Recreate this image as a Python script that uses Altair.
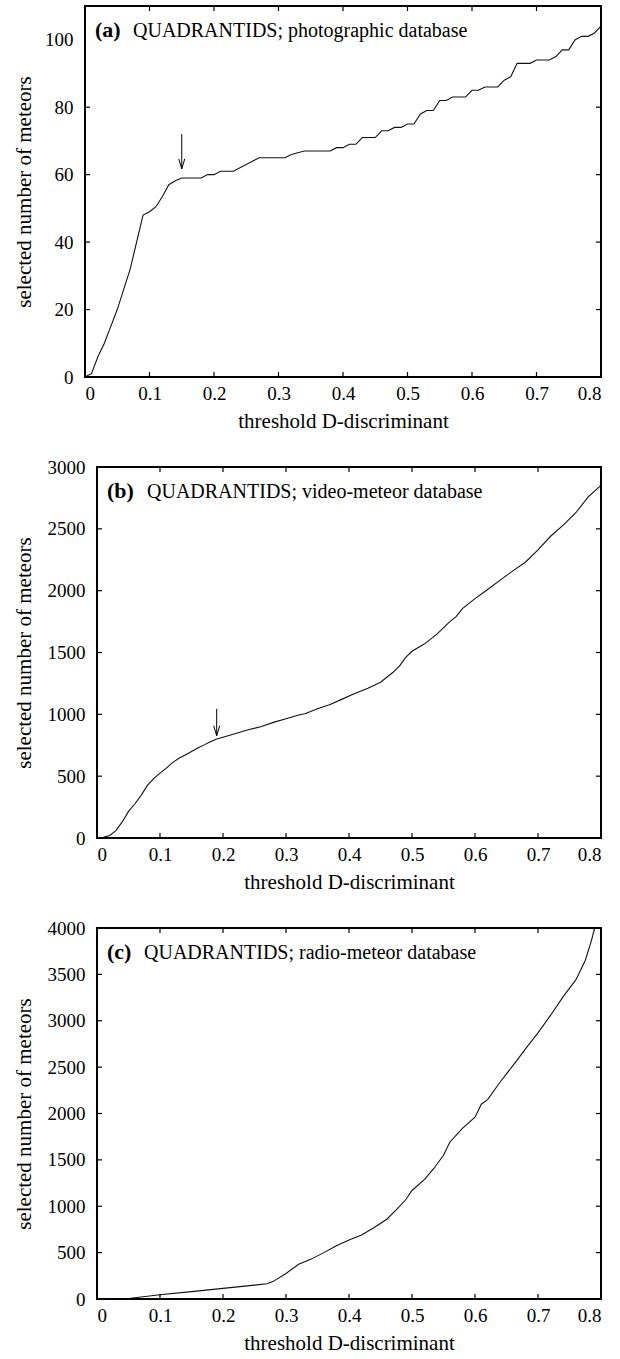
import altair as alt
import pandas as pd

FONT = "Liberation Serif"

# ---------------- data ----------------
X_TICKS = [0, 0.1, 0.2, 0.3, 0.4, 0.5, 0.6, 0.7, 0.8]

# (a) photographic database
xa = [0, 0.005, 0.01, 0.02, 0.03, 0.04, 0.05, 0.06, 0.07, 0.08, 0.09, 0.1, 0.11, 0.12,
      0.13, 0.14, 0.15, 0.18, 0.19, 0.2, 0.21, 0.23, 0.27, 0.31, 0.32, 0.34, 0.38, 0.39,
      0.4, 0.41, 0.42, 0.43, 0.45, 0.46, 0.47, 0.48, 0.49, 0.5, 0.51, 0.52, 0.53, 0.54,
      0.55, 0.56, 0.57, 0.59, 0.6, 0.61, 0.62, 0.64, 0.65, 0.66, 0.67, 0.69, 0.7, 0.72,
      0.73, 0.74, 0.75, 0.76, 0.77, 0.78, 0.79, 0.8]
ya = [0, 0.5, 1, 6, 10, 15, 20, 26, 32, 40, 48, 49, 50.5, 53.5,
      57, 58.2, 59, 59, 60, 60, 61, 61, 65, 65, 66, 67, 67, 68,
      68, 69, 69, 71, 71, 73, 73, 74, 74, 75, 75, 78, 79, 79,
      82, 82, 83, 83, 85, 85, 86, 86, 88, 89, 93, 93, 94, 94,
      95, 97, 97, 100, 101, 101, 102, 104]
YA_TICKS = [0, 20, 40, 60, 80, 100]
ARROW_A = {"d": 0.15, "top": 72, "tip": 61.7}

# (b) video-meteor database
xb = [0, 0.01, 0.02, 0.03, 0.04, 0.05, 0.06, 0.07, 0.08, 0.09, 0.1, 0.11, 0.12, 0.13,
      0.14, 0.15, 0.16, 0.17, 0.18, 0.19, 0.2, 0.22, 0.24, 0.26, 0.28, 0.3, 0.32, 0.33,
      0.35, 0.37, 0.39, 0.41, 0.43, 0.45, 0.46, 0.47, 0.48, 0.49, 0.5, 0.52, 0.54, 0.56,
      0.57, 0.58, 0.6, 0.62, 0.64, 0.66, 0.68, 0.7, 0.72, 0.74, 0.76, 0.78, 0.8]
yb = [0, 5, 20, 60, 130, 215, 275, 345, 425, 480, 525, 565, 610, 645,
      672, 700, 728, 753, 778, 800, 815, 845, 875, 900, 935, 965, 995, 1005,
      1045, 1080, 1125, 1170, 1210, 1260, 1300, 1340, 1390, 1460, 1510, 1570, 1650, 1750,
      1790, 1855, 1936, 2010, 2085, 2160, 2230, 2330, 2440, 2530, 2630, 2760, 2852]
YB_TICKS = [0, 500, 1000, 1500, 2000, 2500, 3000]
ARROW_B = {"d": 0.19, "top": 1044, "tip": 827}

# (c) radio-meteor database
xc = [0, 0.05, 0.1, 0.15, 0.2, 0.25, 0.27, 0.28, 0.3, 0.32, 0.34, 0.36, 0.38, 0.4,
      0.42, 0.44, 0.46, 0.475, 0.49, 0.5, 0.52, 0.535, 0.55, 0.56, 0.58, 0.6, 0.61,
      0.62, 0.64, 0.665, 0.685, 0.7, 0.72, 0.74, 0.76, 0.775, 0.785, 0.79]
yc = [0, 5, 45, 80, 115, 150, 165, 190, 275, 375, 430, 500, 575, 635,
      690, 770, 860, 960, 1070, 1170, 1290, 1410, 1550, 1690, 1840, 1960, 2100,
      2150, 2340, 2560, 2740, 2870, 3060, 3260, 3440, 3650, 3870, 4000]
YC_TICKS = [0, 500, 1000, 1500, 2000, 2500, 3000, 3500, 4000]

X_TITLE = "threshold D-discriminant"
Y_TITLE = "selected number of meteors"

AXIS_STYLE = dict(
    domain=False, ticks=False, tickSize=0, grid=False,
    labelFont=FONT, labelFontSize=19, labelColor="black",
    titleFont=FONT, titleFontSize=21, titleFontWeight="normal", titleColor="black",
)

W = 516   # full cell width (all panels share the right edge)
H = 371


def panel(xs, ys, ymax, yticks, x0, tag, caption, cap_dx, ytitle_pad, arrow=None):
    """x0 = left inset of the plot frame inside the common cell."""
    df = pd.DataFrame({"d": xs, "n": ys})
    xscale = alt.Scale(domain=[0, 0.8], range=[x0, W], nice=False, zero=False)
    yscale = alt.Scale(domain=[0, ymax], nice=False, zero=False)
    xaxis = alt.Axis(values=X_TICKS, format=".1~f", title=X_TITLE,
                     labelPadding=7, titlePadding=7, **AXIS_STYLE)
    yaxis = alt.Axis(values=yticks, format="d", title=Y_TITLE, offset=-x0,
                     labelPadding=12, titlePadding=ytitle_pad, **AXIS_STYLE)

    def X(field):
        return alt.X(field, scale=xscale, axis=xaxis)

    def Y(field):
        return alt.Y(field, scale=yscale, axis=yaxis)

    line = alt.Chart(df).mark_line(color="#111111", strokeWidth=1.1).encode(
        x=X("d:Q"), y=Y("n:Q"))

    frame = alt.Chart(pd.DataFrame({"f": [0]})).mark_rect(
        fillOpacity=0, stroke="black", strokeWidth=2).encode(
        x=alt.value(x0), x2=alt.value(W), y=alt.value(0), y2=alt.value(H))

    xt = pd.DataFrame({"d": X_TICKS[1:-1]})
    yt = pd.DataFrame({"n": yticks[1:-1]})
    tick_style = dict(color="black", strokeWidth=1.2)
    bottom = alt.Chart(xt).mark_rule(**tick_style).encode(
        x=X("d:Q"), y=alt.value(H), y2=alt.value(H - 5))
    top = alt.Chart(xt).mark_rule(**tick_style).encode(
        x=X("d:Q"), y=alt.value(0), y2=alt.value(5))
    left = alt.Chart(yt).mark_rule(**tick_style).encode(
        y=Y("n:Q"), x=alt.value(x0), x2=alt.value(x0 + 5))
    right = alt.Chart(yt).mark_rule(**tick_style).encode(
        y=Y("n:Q"), x=alt.value(W), x2=alt.value(W - 5))

    tag_text = alt.Chart(pd.DataFrame({"t": [tag]})).mark_text(
        font=FONT, fontSize=22, fontWeight="bold", align="left", baseline="alphabetic",
        color="black").encode(x=alt.value(x0 + 10), y=alt.value(31), text="t:N")
    cap_text = alt.Chart(pd.DataFrame({"t": [caption]})).mark_text(
        font=FONT, fontSize=20, align="left", baseline="alphabetic",
        color="black").encode(x=alt.value(x0 + cap_dx), y=alt.value(31), text="t:N")

    layers = [line, frame, bottom, top, left, right, tag_text, cap_text]

    if arrow is not None:
        adf = pd.DataFrame({"d": [arrow["d"]], "n": [arrow["top"]], "tip": [arrow["tip"]]})
        shaft = alt.Chart(adf).mark_rule(color="black", strokeWidth=1).encode(
            x=X("d:Q"), y=Y("n:Q"), y2="tip:Q")
        head = alt.Chart(adf).mark_point(
            shape="M-0.6,-2L0,0L0.6,-2", filled=False, size=100,
            color="black", strokeWidth=1, opacity=1).encode(
            x=X("d:Q"), y=Y("tip:Q"))
        layers += [shaft, head]

    return alt.layer(*layers).properties(width=W, height=H)


pa = panel(xa, ya, 110, YA_TICKS, 0, "(a)",
           "QUADRANTIDS; photographic database", 48, 10, ARROW_A)
pb = panel(xb, yb, 3000, YB_TICKS, 12, "(b)",
           "QUADRANTIDS; video-meteor database", 50, 12.5, ARROW_B)
pc = panel(xc, yc, 4000, YC_TICKS, 12, "(c)",
           "QUADRANTIDS; radio-meteor database", 47, 12.5)

chart = alt.vconcat(pa, pb, pc, spacing=27).properties(
    padding={"left": 13, "top": 5, "right": 5, "bottom": 0},
    background="white",
).configure_view(
    strokeOpacity=0
).configure_axis(**AXIS_STYLE)

chart.save("out.html", embed_options={"renderer": "svg", "actions": False})
